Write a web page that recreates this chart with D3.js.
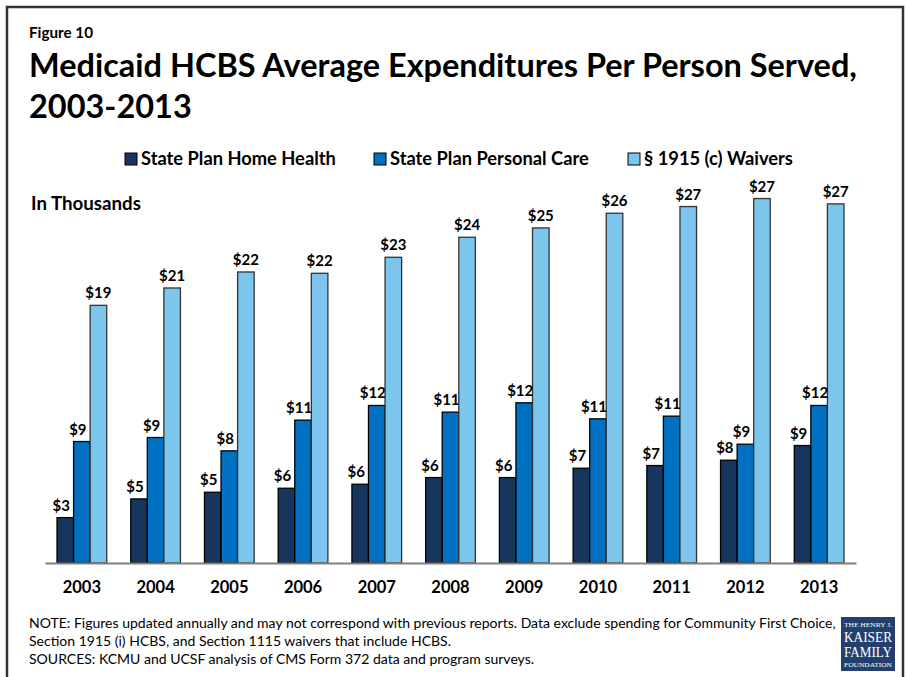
<!DOCTYPE html>
<html>
<head>
<meta charset="utf-8">
<script src="https://d3js.org/d3.v7.min.js"></script>
<style>
  body { margin: 0; background: #fff; }
  text { font-family: Lato, "Open Sans", sans-serif; fill: #000; }
</style>
</head>
<body>
<div id="chart"></div>
<script>
// values in thousands of dollars
var years = ["2003", "2004", "2005", "2006", "2007", "2008", "2009", "2010", "2011", "2012", "2013"];
var homeHealth   = [3.4, 4.8, 5.3, 5.6, 5.9, 6.4, 6.4, 7.1, 7.3, 7.7, 8.8];
var personalCare = [9.1, 9.4, 8.4, 10.7, 11.8, 11.3, 12.0, 10.8, 11.0, 8.9, 11.8];
var waivers      = [19.3, 20.6, 21.8, 21.7, 22.9, 24.4, 25.1, 26.2, 26.7, 27.3, 26.9];
var seriesNames = ["State Plan Home Health", "State Plan Personal Care", "\u00a7 1915 (c) Waivers"];
var noteLines = [
  "NOTE: Figures updated annually and may not correspond with previous reports. Data exclude spending for Community First Choice,",
  "Section 1915 (i) HCBS, and Section 1115 waivers that include HCBS.",
  "SOURCES: KCMU and UCSF analysis of CMS Form 372 data and program surveys."
];

var width = 906, height = 677;
var colors = ["#17365d", "#0070c0", "#7cc5ec"];
var seriesData = [homeHealth, personalCare, waivers];

var svg = d3.select("#chart").append("svg")
  .attr("width", width)
  .attr("height", height);

// frame
svg.append("rect")
  .attr("x", 7).attr("y", 7)
  .attr("width", 896).attr("height", 720)
  .attr("fill", "none")
  .attr("stroke", "#333")
  .attr("stroke-width", 2.5);

// shrink/grow a text element so it spans w pixels
function fit(sel, w) {
  var fs = parseFloat(sel.style("font-size"));
  var len = sel.node().getComputedTextLength();
  sel.style("font-size", (fs * w / len) + "px");
  return fs * w / len;
}

var fig = svg.append("text")
  .attr("x", 29).attr("y", 38)
  .style("font-weight", "bold").style("font-size", "14px")
  .text("Figure 10");
fit(fig, 64);

var t1 = svg.append("text")
  .attr("x", 29).attr("y", 77)
  .style("font-weight", "bold").style("font-size", "28px")
  .text("Medicaid HCBS Average Expenditures Per Person Served,");
var titleSize = fit(t1, 828);
svg.append("text")
  .attr("x", 29).attr("y", 118)
  .style("font-weight", "bold").style("font-size", titleSize + "px")
  .text("2003-2013");

// legend
var legendX = [125, 374, 628];
var legend = svg.selectAll(".legend")
  .data(seriesNames)
  .enter().append("g")
  .attr("class", "legend")
  .attr("transform", function(d, i) { return "translate(" + legendX[i] + ",153)"; });

legend.append("rect")
  .attr("width", 12).attr("height", 12)
  .attr("fill", function(d, i) { return colors[i]; })
  .attr("stroke", "#000")
  .attr("stroke-width", 1);

var legText = legend.append("text")
  .attr("x", 16).attr("y", 11.5)
  .style("font-weight", "bold").style("font-size", "16px")
  .text(function(d) { return d; });
var legSize = fit(d3.select(legText.nodes()[0]), 195);
legText.style("font-size", legSize + "px");

var inTh = svg.append("text")
  .attr("x", 31).attr("y", 210)
  .style("font-weight", "bold").style("font-size", "16px")
  .text("In Thousands");
fit(inTh, 110);

// scales
var x0 = d3.scaleBand()
  .domain(years)
  .range([45, 856])
  .paddingInner(0.326)
  .paddingOuter(0.163);

var x1 = d3.scaleBand()
  .domain([0, 1, 2])
  .range([0, x0.bandwidth()]);

var y = d3.scaleLinear()
  .domain([0, 30])
  .range([563, 162.5]);

var groups = svg.selectAll(".year")
  .data(years)
  .enter().append("g")
  .attr("class", "year")
  .attr("transform", function(d) { return "translate(" + x0(d) + ",0)"; });

var cells = groups.selectAll(".cell")
  .data(function(d, i) {
    return seriesData.map(function(s, k) { return { k: k, v: s[i] }; });
  })
  .enter();

cells.append("rect")
  .attr("x", function(d) { return x1(d.k); })
  .attr("width", x1.bandwidth())
  .attr("y", function(d) { return y(d.v); })
  .attr("height", function(d) { return y(0) - y(d.v); })
  .attr("fill", function(d) { return colors[d.k]; })
  .attr("stroke", function(d) { return d.k == 2 ? "#333" : "#000"; })
  .attr("stroke-width", 1.3);

cells.append("text")
  .attr("x", function(d) { return x1(d.k) + x1.bandwidth() / 2 + (d.k == 2 ? 0 : -4); })
  .attr("y", function(d) { return y(d.v) - 7; })
  .attr("text-anchor", "middle")
  .style("font-weight", "bold").style("font-size", "15px")
  .text(function(d) { return "$" + Math.round(d.v); });

// x axis
var xAxis = svg.append("g")
  .attr("transform", "translate(0," + y(0) + ")")
  .call(d3.axisBottom(x0).tickSize(0).tickPadding(18));
xAxis.select(".domain").attr("stroke", "#808080").attr("stroke-width", 2);
xAxis.selectAll("text")
  .style("font-family", "Lato, sans-serif")
  .style("font-weight", "bold")
  .style("font-size", "16.5px")
  .attr("fill", "#000");

// notes
var notes = svg.selectAll(".note")
  .data(noteLines)
  .enter().append("text")
  .attr("class", "note")
  .attr("x", 29)
  .attr("y", function(d, i) { return 628 + i * 18; })
  .style("font-size", "13px")
  .text(function(d) { return d; });
var noteSize = fit(d3.select(notes.nodes()[0]), 807);
notes.style("font-size", noteSize + "px");

// logo
var logo = svg.append("g").attr("transform", "translate(841,617)");
logo.append("rect").attr("width", 54).attr("height", 54).attr("fill", "#243f6d");
var logoLines = [["THE HENRY J.", 10, 5.5], ["KAISER", 25, 14], ["FAMILY", 40, 14], ["FOUNDATION", 50, 5.5]];
logo.selectAll(".lg")
  .data(logoLines)
  .enter().append("text")
  .attr("x", 27).attr("y", function(d) { return d[1]; })
  .attr("text-anchor", "middle")
  .attr("textLength", 48)
  .attr("lengthAdjust", "spacingAndGlyphs")
  .style("font-family", "'Liberation Serif', 'DejaVu Serif', serif")
  .style("font-size", function(d) { return d[2] + "px"; })
  .style("fill", "#fff")
  .text(function(d) { return d[0]; });
</script>
</body>
</html>
